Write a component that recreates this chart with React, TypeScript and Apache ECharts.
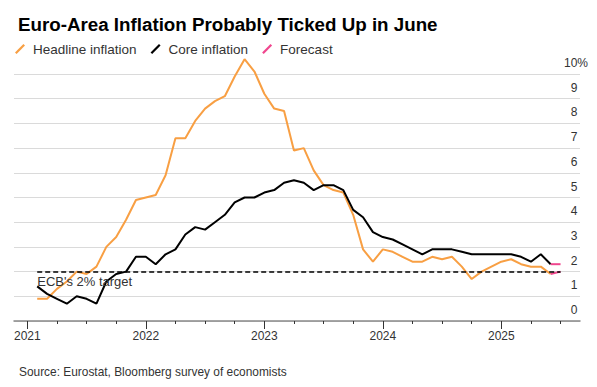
import React, { useEffect, useRef } from "react";
import * as echarts from "echarts";

// Monthly values, Jan 2021 .. May 2025 (percent, y/y)
const headline = [
  0.9, 0.9, 1.3, 1.6, 2.0, 1.9, 2.2, 3.0, 3.4, 4.1, 4.9, 5.0,
  5.1, 5.9, 7.4, 7.4, 8.1, 8.6, 8.9, 9.1, 9.9, 10.6, 10.1, 9.2,
  8.6, 8.5, 6.9, 7.0, 6.1, 5.5, 5.3, 5.2, 4.3, 2.9, 2.4, 2.9,
  2.8, 2.6, 2.4, 2.4, 2.6, 2.5, 2.6, 2.2, 1.7, 2.0, 2.2, 2.4,
  2.5, 2.3, 2.2, 2.2, 1.9,
];
const core = [
  1.4, 1.1, 0.9, 0.7, 1.0, 0.9, 0.7, 1.6, 1.9, 2.0, 2.6, 2.6,
  2.3, 2.7, 2.9, 3.5, 3.8, 3.7, 4.0, 4.3, 4.8, 5.0, 5.0, 5.2,
  5.3, 5.6, 5.7, 5.6, 5.3, 5.5, 5.5, 5.3, 4.5, 4.2, 3.6, 3.4,
  3.3, 3.1, 2.9, 2.7, 2.9, 2.9, 2.9, 2.8, 2.7, 2.7, 2.7, 2.7,
  2.7, 2.6, 2.4, 2.7, 2.3,
];
// June 2025 forecasts
const headlineForecast = [2.0];
const coreForecast = [2.3];
const targetValue = 2;
const firstYear = 2021;
const yearLabels = [2021, 2022, 2023, 2024, 2025];
const yTicks = [0, 1, 2, 3, 4, 5, 6, 7, 8, 9, 10];

// x position: months since Jan 1 2021; a month's value is plotted at its end
const toPairs = (vals: number[], start: number) =>
  vals.map((v, i) => [start + i + 1, v]);

export default function App() {
  const ref = useRef<HTMLDivElement>(null);
  useEffect(() => {
    if (!ref.current) return;
    const chart = echarts.init(ref.current, undefined, { renderer: "svg" });
    const last = headline.length; // end of last actual month
    const yearVals = yearLabels.map((y) => (y - firstYear) * 12);
    const quarterVals: number[] = [];
    for (let m = 0; m <= 54; m += 3) quarterVals.push(m);
    const font = "'Liberation Sans', Arial, Helvetica, sans-serif";
    const hPairs = toPairs(headline, 0);
    const cPairs = toPairs(core, 0);
    const hf = [[last, headline[last - 1]], ...toPairs(headlineForecast, last)];
    const cf = [[last, core[last - 1]], ...toPairs(coreForecast, last)];
    chart.setOption({
      animation: false,
      textStyle: { fontFamily: font },
      title: [
        {
          text: "Euro-Area Inflation Probably Ticked Up in June",
          left: 13,
          top: 10,
          textStyle: { fontSize: 18.75, fontWeight: "bold", color: "#000", fontFamily: font },
        },
        {
          text: "Source: Eurostat, Bloomberg survey of economists",
          left: 14,
          top: 361,
          textStyle: { fontSize: 11.9, fontWeight: "normal", color: "#333", fontFamily: font },
        },
      ],
      legend: {
        data: ["Headline inflation", "Core inflation", "Forecast"],
        left: 15,
        top: 42,
        padding: 0,
        itemWidth: 10,
        itemHeight: 10,
        itemGap: 14,
        icon: "path://M0,8.6 L8.4,0 L10,1.4 L1.6,10 Z",
        textStyle: { fontSize: 13.5, color: "#333", padding: [0, 0, 0, 3], fontFamily: font },
      },
      grid: { left: 14, right: 17, top: 74, bottom: 66, containLabel: false },
      xAxis: [
        {
          type: "value",
          min: -1.35,
          max: 55.97,
          axisLine: { show: true, lineStyle: { color: "#888", width: 1.5 } },
          axisTick: { show: true, customValues: quarterVals, length: 3, lineStyle: { color: "#333" } },
          axisLabel: {
            customValues: yearVals,
            formatter: (v: number) => String(firstYear + Math.round(v / 12)),
            fontSize: 12,
            color: "#333",
            margin: 9,
          },
          splitLine: { show: false },
        },
        {
          type: "value",
          min: -1.35,
          max: 55.97,
          position: "bottom",
          axisLine: { show: false },
          axisTick: { show: true, customValues: yearVals, length: 8, lineStyle: { color: "#333" } },
          axisLabel: { show: false },
          splitLine: { show: false },
        },
      ],
      yAxis: {
        type: "value",
        position: "right",
        min: 0,
        max: 10,
        interval: 1,
        axisLine: { show: false },
        axisTick: { show: false },
        splitLine: { show: true, lineStyle: { color: "#dadada", width: 1 } },
        axisLabel: {
          inside: false,
          margin: 8,
          align: "right",
          verticalAlign: "bottom",
          lineHeight: 14,
          padding: [0, 0, 4, 0],
          fontSize: 12,
          color: "#333",
          formatter: (v: number) =>
            v === yTicks[yTicks.length - 1] ? `${v}%` : `${v}{h|%}`,
          rich: { h: { color: "rgba(0,0,0,0)", fontSize: 12, fontFamily: font } },
        },
      },
      series: [
        {
          name: "Headline inflation",
          type: "line",
          data: hPairs,
          showSymbol: false,
          symbol: "none",
          clip: false,
          color: "#F89F43",
          lineStyle: { color: "#F89F43", width: 2 },
          z: 2,
        },
        {
          name: "Core inflation",
          type: "line",
          data: cPairs,
          showSymbol: false,
          symbol: "none",
          clip: false,
          color: "#000",
          lineStyle: { color: "#000", width: 2 },
          z: 3,
        },
        {
          name: "Forecast",
          type: "line",
          data: hf,
          symbol: "none",
          clip: false,
          color: "#F0468E",
          lineStyle: { color: "#F0468E", width: 2 },
          z: 4,
        },
        {
          name: "Forecast",
          type: "line",
          data: cf,
          symbol: "none",
          clip: false,
          color: "#F0468E",
          lineStyle: { color: "#F0468E", width: 2 },
          z: 4,
        },
        {
          name: "target",
          type: "line",
          data: [],
          z: 5,
          markLine: {
            silent: true,
            symbol: "none",
            lineStyle: { color: "#000", type: [5, 3], width: 1.5 },
            label: {
              show: true,
              position: "insideStartBottom",
              formatter: "ECB's 2% target",
              fontSize: 13,
              color: "#333",
              distance: [0, 3],
              fontFamily: font,
            },
            data: [[{ coord: [1, targetValue] }, { coord: [last + 1, targetValue] }]],
          },
        },
      ],
    });
    return () => chart.dispose();
  }, []);
  return (
    <div
      ref={ref}
      style={{ position: "fixed", left: 0, top: 0, width: 597, height: 387, background: "#fff" }}
    />
  );
}
